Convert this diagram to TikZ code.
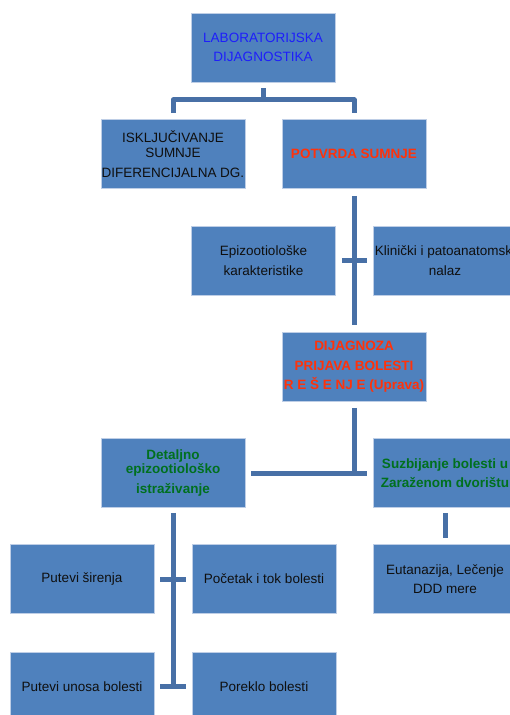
\documentclass[tikz,border=0pt]{standalone}
\usepackage{fontspec}
\setmainfont{Liberation Sans}
\definecolor{boxblue}{RGB}{79,129,189}
\definecolor{boxedge}{RGB}{190,206,230}
\definecolor{connblue}{RGB}{72,112,166}
\definecolor{txtdark}{RGB}{15,15,15}
\definecolor{txtblue}{RGB}{30,30,250}
\definecolor{txtred}{RGB}{255,50,10}
\definecolor{txtgreen}{RGB}{0,112,30}
\tikzset{
  box/.style={rectangle, fill=boxblue, draw=boxedge, line width=0.8bp,
    minimum width=144bp, minimum height=69bp, inner sep=0pt, align=center,
    text=txtdark, font=\fontsize{13.5bp}{19.5bp}\selectfont},
  redtxt/.style={text=txtred, font=\fontsize{13.5bp}{19.5bp}\selectfont\bfseries},
  greentxt/.style={text=txtgreen, font=\fontsize{13.5bp}{19.5bp}\selectfont\bfseries},
  conn/.style={draw=connblue, line width=5bp, line join=round}
}
\begin{document}
\begin{tikzpicture}[x=1bp,y=-1bp]
\useasboundingbox (0,0) rectangle (510,715);
% boxes
\node[box, text=txtblue] (lab) at (263,47.5) {LABORATORIJSKA\\DIJAGNOSTIKA};
\node[box] (isk) at (173,154) {ISKLJUČIVANJE\\[-4.5bp]SUMNJE\\DIFERENCIJALNA DG.};
\node[box, redtxt] (pot) at (354,154) {POTVRDA SUMNJE};
\node[box] (epi) at (263.5,260.5) {Epizootiološke\\karakteristike};
\node[box] (kli) at (445,260.5) {Klinički i patoanatomski\\nalaz};
\node[box, redtxt] (dij) at (354,367) {DIJAGNOZA\\PRIJAVA BOLESTI\\R E Š E NJ E (Uprava)};
\node[box, greentxt] (det) at (173,473) {Detaljno\\[-5.5bp]epizootiološko\\istraživanje};
\node[box, greentxt] (suz) at (445,473) {Suzbijanje bolesti u\\Zaraženom dvorištu};
\node[box] (eut) at (445,579) {Eutanazija, Lečenje\\DDD mere};
\node[box] (sir) at (82,579) {Putevi širenja};
\node[box] (poc) at (264,579) {Početak i tok bolesti};
\node[box] (uno) at (82,686.5) {Putevi unosa bolesti};
\node[box] (por) at (264,686.5) {Poreklo bolesti};
% connectors
\coordinate (bus) at (263,100);
\draw[conn] ([yshift=-6bp]lab.south) -- (bus);
\draw[conn] ([yshift=6bp]isk.north) |- (bus) -| ([yshift=6bp]pot.north);
\draw[conn] ([yshift=-7bp]pot.south) -- ([yshift=7bp]dij.north);
\draw[conn] ([xshift=6bp]epi.east) -- ([xshift=-6bp]kli.west);
\draw[conn] ([yshift=-6bp]dij.south) -- (dij.south |- det.east);
\draw[conn] ([xshift=6bp]det.east) -- ([xshift=-6bp]suz.west);
\draw[conn] ([yshift=-5bp]suz.south) -- ([yshift=6bp]eut.north);
\draw[conn] ([yshift=-5bp]det.south) -- (det.south |- uno.east);
\draw[conn] ([xshift=6bp]sir.east) -- ([xshift=-6bp]poc.west);
\draw[conn] ([xshift=6bp]uno.east) -- ([xshift=-6bp]por.west);
\end{tikzpicture}
\end{document}
